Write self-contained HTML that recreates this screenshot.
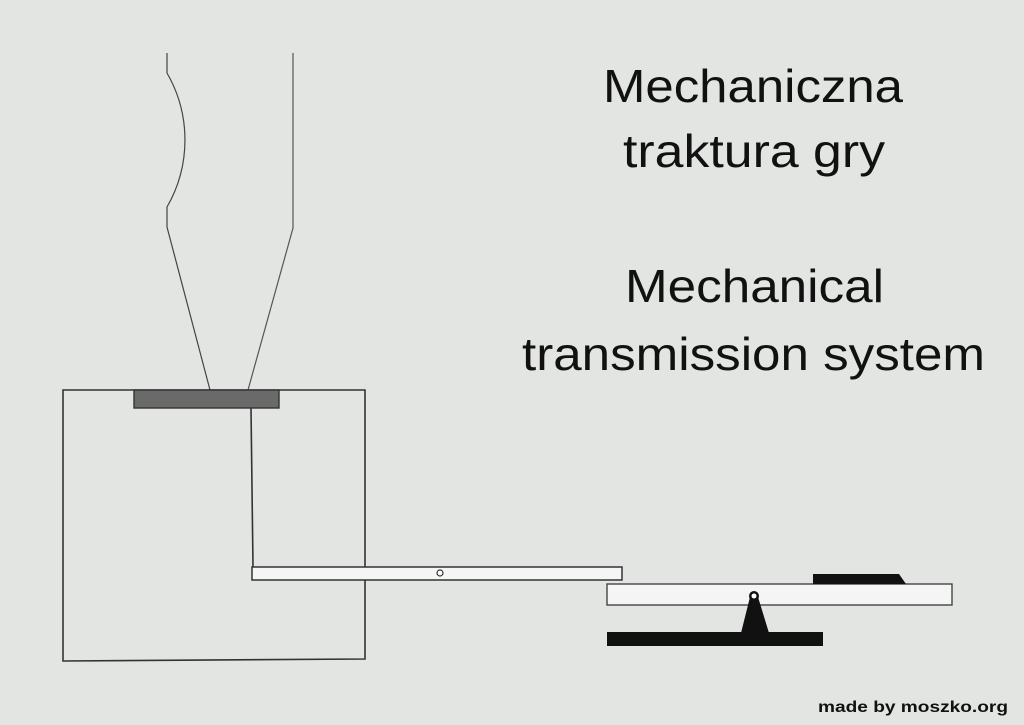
<!DOCTYPE html>
<html><head><meta charset="utf-8"><style>
html,body{margin:0;padding:0;background:#e3e5e2;}
svg{display:block}
text{font-family:"Liberation Sans",sans-serif;fill:#111;}
</style></head><body>
<svg width="1024" height="725" viewBox="0 0 1024 725">
<rect width="1024" height="725" fill="#e3e5e2"/>
<!-- pipe -->
<path d="M167,53 L167,73 A134,134 0 0 1 167,207 L167,227 L210,390" fill="none" stroke="#444" stroke-width="1.2"/>
<path d="M293,53 L293,228 L248,390" fill="none" stroke="#555" stroke-width="1.2"/>
<!-- box -->
<path d="M63,390 L365,390 L365,659 L63,661 Z" fill="none" stroke="#333" stroke-width="1.6"/>
<rect x="134" y="390" width="145" height="18" fill="#6a6a6a" stroke="#333" stroke-width="1.4"/>
<line x1="251" y1="408" x2="253" y2="567" stroke="#333" stroke-width="1.6"/>
<!-- rod -->
<rect x="252" y="567" width="370" height="13" fill="#f5f5f5" stroke="#333" stroke-width="1.5"/>
<circle cx="440" cy="573" r="3" fill="#fff" stroke="#333" stroke-width="1.2"/>
<!-- lever -->
<rect x="607" y="584" width="345" height="21" fill="#f5f5f5" stroke="#444" stroke-width="1.4"/>
<path d="M813,574 L899,574 L906,584 L813,584 Z" fill="#111"/>
<path d="M750,597 L758,597 L769,633 L741,633 Z" fill="#111"/>
<circle cx="754" cy="596" r="5" fill="#111"/>
<circle cx="754" cy="596" r="2.5" fill="#fff"/>
<rect x="607" y="632" width="216" height="14" fill="#111"/>
<!-- text -->
<g font-size="46" text-anchor="start">
<text x="603" y="102" textLength="300" lengthAdjust="spacingAndGlyphs">Mechaniczna</text>
<text x="623" y="167" textLength="262" lengthAdjust="spacingAndGlyphs">traktura gry</text>
<text x="625" y="302" textLength="259" lengthAdjust="spacingAndGlyphs">Mechanical</text>
<text x="522" y="370" textLength="463" lengthAdjust="spacingAndGlyphs">transmission system</text>
</g>
<text x="818" y="712" font-size="16" font-weight="bold" textLength="190" lengthAdjust="spacingAndGlyphs">made by moszko.org</text>
</svg>
</body></html>
